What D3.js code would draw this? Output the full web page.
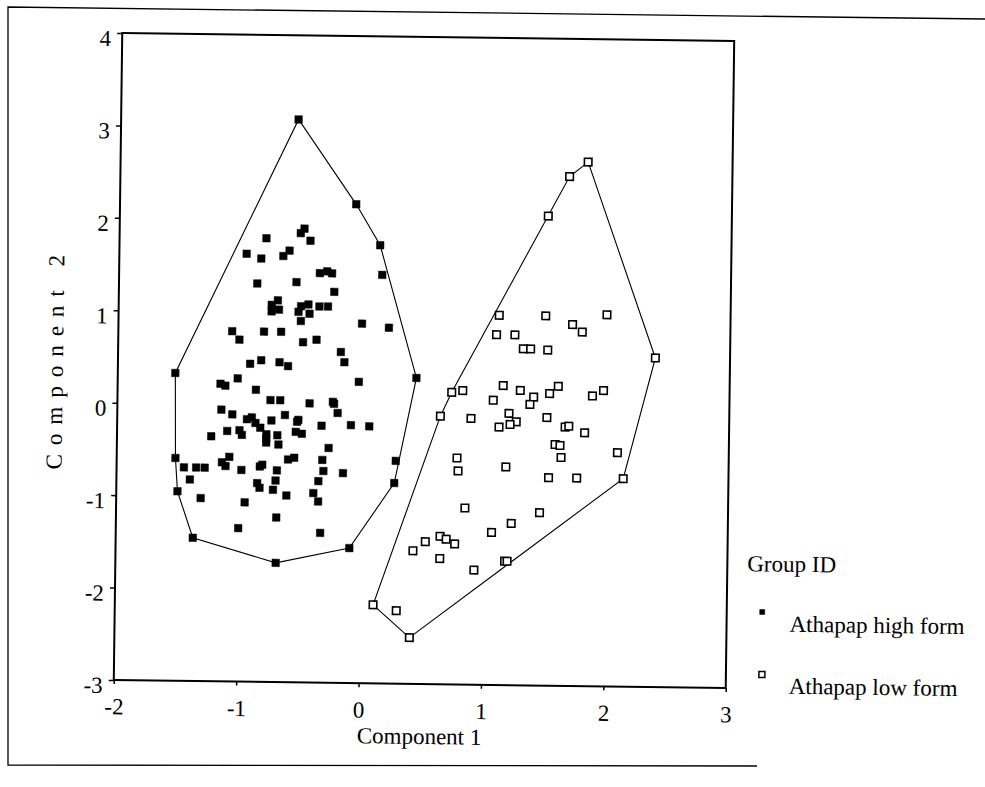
<!DOCTYPE html>
<html>
<head>
<meta charset="utf-8">
<script src="https://cdn.jsdelivr.net/npm/d3@7"></script>
<style>
  body { margin: 0; background: #fff; }
  svg { display: block; }
  text { font-family: "Liberation Serif", "Times New Roman", serif; fill: #000; }
</style>
</head>
<body>
<div id="chart"></div>
<script>
// Athapap high form, [component 1, component 2]
var highForm = [
    [-0.55,3.09],[-0.07,2.18],[0.13,1.74],[0.15,1.42],[-0.49,1.91],[-0.52,1.86],[-0.44,1.78],[-0.80,1.80],
    [-0.96,1.63],[-0.84,1.58],[-0.61,1.67],[-0.66,1.61],[-0.36,1.43],[-0.30,1.45],[-0.26,1.43],[-0.87,1.31],
    [-0.55,1.33],[-0.24,1.23],[-0.70,1.13],[-0.75,1.08],[-0.75,1.01],[-0.69,1.03],[-0.53,1.01],[-0.51,1.07],
    [-0.45,1.09],[-0.44,0.99],[-0.36,1.07],[-0.29,1.07],[-0.51,0.91],[-0.01,0.89],[0.21,0.85],[-1.07,0.79],
    [-1.01,0.70],[-0.81,0.79],[-0.67,0.79],[-0.49,0.68],[-0.38,0.71],[-0.18,0.58],[-0.15,0.47],[-0.92,0.44],
    [-0.83,0.48],[-0.68,0.46],[-0.61,0.42],[-1.53,0.33],[-1.02,0.28],[-0.03,0.26],[0.44,0.31],[-1.16,0.22],
    [-1.12,0.20],[-0.87,0.16],[-0.75,0.05],[-0.67,0.05],[-0.43,0.02],[-0.24,0.04],[-0.23,0.02],[-0.20,-0.08],
    [-1.15,-0.06],[-1.06,-0.11],[-0.63,-0.11],[-0.94,-0.16],[-0.90,-0.14],[-0.87,-0.20],[-0.83,-0.25],[-0.74,-0.17],
    [-0.53,-0.18],[-0.52,-0.16],[-0.33,-0.22],[-0.09,-0.21],[0.06,-0.22],[-1.10,-0.29],[-1.00,-0.28],[-0.98,-0.33],
    [-0.78,-0.32],[-0.78,-0.41],[-0.78,-0.37],[-0.69,-0.33],[-0.54,-0.29],[-0.49,-0.31],[-1.23,-0.35],[-0.68,-0.43],
    [-0.27,-0.46],[-1.52,-0.59],[-1.45,-0.69],[-1.35,-0.69],[-1.28,-0.69],[-1.08,-0.57],[-1.14,-0.63],[-1.11,-0.67],
    [-0.98,-0.71],[-0.83,-0.67],[-0.81,-0.65],[-0.69,-0.71],[-0.60,-0.59],[-0.55,-0.57],[-0.32,-0.59],[-0.31,-0.71],
    [-0.15,-0.73],[0.28,-0.59],[-1.40,-0.82],[-0.70,-0.82],[-0.35,-0.82],[-0.85,-0.85],[-0.83,-0.90],[-0.72,-0.92],
    [-0.61,-0.98],[-0.39,-0.95],[-0.35,-1.04],[0.27,-0.83],[-1.50,-0.95],[-1.31,-1.02],[-0.95,-1.06],[-0.69,-1.22],
    [-1.00,-1.34],[-0.33,-1.38],[-1.37,-1.45],[-0.69,-1.71],[-0.09,-1.54]
];

// Athapap low form
var lowForm = [
    [0.73,0.16],[0.82,0.18],[0.64,-0.10],[0.89,-0.12],[1.11,1.00],[1.49,1.00],[1.99,1.02],[1.71,0.91],
    [1.79,0.83],[1.09,0.79],[1.24,0.79],[1.31,0.64],[1.37,0.64],[1.51,0.63],[1.15,0.24],[1.29,0.19],
    [1.40,0.12],[1.37,0.04],[1.53,0.16],[1.60,0.24],[1.88,0.14],[1.97,0.20],[1.07,0.08],[1.20,-0.06],
    [1.26,-0.15],[1.21,-0.18],[1.12,-0.21],[1.51,-0.10],[1.66,-0.20],[1.69,-0.19],[1.82,-0.26],[1.58,-0.39],
    [1.62,-0.40],[1.63,-0.53],[2.09,-0.47],[0.78,-0.55],[0.79,-0.69],[1.18,-0.64],[1.53,-0.75],[1.76,-0.75],
    [2.14,-0.75],[0.85,-1.09],[1.46,-1.13],[1.23,-1.25],[1.07,-1.35],[0.65,-1.40],[0.70,-1.43],[0.77,-1.48],
    [0.53,-1.46],[0.43,-1.56],[0.65,-1.64],[0.93,-1.76],[1.18,-1.66],[1.20,-1.66],[0.11,-2.15],[0.30,-2.21],
    [0.41,-2.50],[1.82,2.67],[1.67,2.51],[1.50,2.08],[2.39,0.56]
];

var xDomain = [-2, 3];
var yDomain = [-3, 4];
var xTicks = [-2, -1, 0, 1, 2, 3];
var yTicks = [-3, -2, -1, 0, 1, 2, 3, 4];
var groups = [
    { name: 'Athapap high form', data: highForm, filled: true },
    { name: 'Athapap low form', data: lowForm, filled: false }
];

var width = 985, height = 787;
var plot = { left: 118, top: 37, width: 612, height: 647 };
var fontSize = '23px';
// the scan is tilted a little clockwise
var tilt = 0.75, cx = 424, cy = 360;

var svg = d3.select('#chart').append('svg')
    .attr('width', width)
    .attr('height', height);

// outer page border (top edge tilted, left and bottom edges straight)
svg.append('path')
    .attr('d', 'M985,19L8,7L8,765L757,766')
    .attr('fill', 'none')
    .attr('stroke', '#000')
    .attr('stroke-width', 1.3);

var page = svg.append('g')
    .attr('transform', 'rotate(' + tilt + ',' + cx + ',' + cy + ')');

var x = d3.scaleLinear().domain(xDomain).range([0, plot.width]);
var y = d3.scaleLinear().domain(yDomain).range([plot.height, 0]);

var g = page.append('g')
    .attr('transform', 'translate(' + plot.left + ',' + plot.top + ')');

g.append('rect')
    .attr('width', plot.width)
    .attr('height', plot.height)
    .attr('fill', 'none')
    .attr('stroke', '#000')
    .attr('stroke-width', 2);

var xAxis = g.append('g')
    .attr('transform', 'translate(0,' + plot.height + ')')
    .call(d3.axisBottom(x).tickValues(xTicks).tickSize(4).tickFormat(String));
var yAxis = g.append('g')
    .call(d3.axisLeft(y).tickValues(yTicks).tickSize(5).tickFormat(String));

[xAxis, yAxis].forEach(function(axis) {
    axis.select('.domain').remove();
    axis.selectAll('line').attr('stroke', '#000').attr('stroke-width', 1.5);
    axis.selectAll('text')
        .style('font-family', '"Liberation Serif", serif')
        .style('font-size', fontSize)
        .attr('fill', '#000');
});
xAxis.selectAll('text').attr('y', 18).attr('dy', '0.71em');
yAxis.selectAll('text').attr('x', -11).attr('dy', '0.55em');

// convex hull round each group
groups.forEach(function(group) {
    var pts = group.data.map(function(d) { return [x(d[0]), y(d[1])]; });
    var hull = d3.polygonHull(pts);
    g.append('path')
        .attr('d', 'M' + hull.join('L') + 'Z')
        .attr('fill', 'none')
        .attr('stroke', '#000')
        .attr('stroke-width', 1.1);
});

var size = 7.5;
groups.forEach(function(group) {
    g.append('g').selectAll('rect')
        .data(group.data)
        .enter().append('rect')
        .attr('x', function(d) { return x(d[0]) - size / 2; })
        .attr('y', function(d) { return y(d[1]) - size / 2; })
        .attr('width', size)
        .attr('height', size)
        .attr('fill', group.filled ? '#000' : '#fff')
        .attr('stroke', '#000')
        .attr('stroke-width', group.filled ? 0.5 : 1.6);
});

// axis titles
g.append('text')
    .attr('x', plot.width / 2)
    .attr('y', plot.height + 60)
    .attr('text-anchor', 'middle')
    .style('font-size', fontSize)
    .text('Component 1');

g.append('text')
    .attr('transform', 'translate(-55,' + (plot.height / 2 + 2) + ') rotate(-90)')
    .attr('text-anchor', 'middle')
    .style('font-size', fontSize)
    .style('letter-spacing', '9px')
    .text('Component 2');

// legend
var legend = page.append('g').attr('transform', 'translate(750,567)');
legend.append('text')
    .style('font-size', fontSize)
    .text('Group ID');

var item = legend.selectAll('g.item')
    .data(groups)
    .enter().append('g')
    .attr('class', 'item')
    .attr('transform', function(d, i) { return 'translate(0,' + (41 + i * 62) + ')'; });
item.append('rect')
    .attr('x', 13).attr('y', -3)
    .attr('width', function(d) { return d.filled ? 5 : 6; })
    .attr('height', function(d) { return d.filled ? 5 : 6; })
    .attr('fill', function(d) { return d.filled ? '#000' : '#fff'; })
    .attr('stroke', '#000')
    .attr('stroke-width', function(d) { return d.filled ? 0.5 : 1.5; });
item.append('text')
    .attr('x', 43)
    .attr('y', 19)
    .style('font-size', fontSize)
    .text(function(d) { return d.name; });
</script>
</body>
</html>
